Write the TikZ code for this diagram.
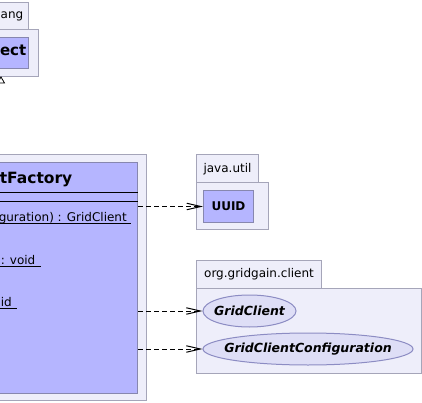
\documentclass[tikz,border=0pt]{standalone}
\usepackage{fontspec}
\setmainfont{DejaVu Sans}
\usetikzlibrary{arrows.meta,shapes.geometric}
\definecolor{pkgfill}{RGB}{238,238,250}
\definecolor{pkgline}{RGB}{165,165,185}
\definecolor{clsfill}{RGB}{181,181,255}
\definecolor{clsline}{RGB}{135,135,175}
\definecolor{elfill}{RGB}{222,222,246}
\definecolor{elline}{RGB}{140,140,195}
\begin{document}
\begin{tikzpicture}[x=1pt,y=-1pt,
  every node/.style={font=\fontsize{12}{14}\selectfont},
  pkgbox/.style={draw=pkgline, fill=pkgfill, line width=1pt, inner sep=0pt, anchor=north west, rectangle},
  clsbox/.style={draw=clsline, fill=clsfill, line width=1pt, inner sep=0pt, anchor=north west, rectangle},
  ifacebox/.style={draw=elline, fill=elfill, line width=1pt, inner sep=0pt, ellipse},
  ifacename/.style={inner sep=0pt, font=\fontsize{12.5}{14}\selectfont\bfseries\itshape},
  frag/.style={inner sep=0pt, anchor=base east},
  dep/.style={draw=black, line width=1pt, dash pattern=on 5pt off 3pt, -{Straight Barb[length=14pt,width=6.5pt,line width=1pt]}}
]
\useasboundingbox (0,0) rectangle (422,403);
\clip (0,0) rectangle (422,403);
\fill[white] (0,0) rectangle (422,403);

% java.lang package (cut off)
\node[pkgbox, minimum width=67.5pt, minimum height=27pt] (langtab) at (-40,2) {};
\node[pkgbox, minimum width=77.5pt, minimum height=47pt] (langbody) at (-40,29) {};
\node[clsbox, minimum width=67.5pt, minimum height=31pt] (object) at (-40,37.5) {};
\node[frag] (langname) at (23.5,18.5) {ang};
\node[frag, font=\fontsize{15}{18}\selectfont\bfseries] (objname) at (26.5,55.5) {ect};
\draw[line width=0.8pt, fill=white] (1,77) -- (4.5,83) -- (-2.5,83) -- cycle;

% GridClientFactory package and class (cut off)
\node[pkgbox, minimum width=185.5pt, minimum height=246pt] (factpkg) at (-40,154) {};
\node[clsbox, minimum width=177pt, minimum height=230.5pt] (factory) at (-40,162) {};
\node[frag, font=\fontsize{15.5}{18}\selectfont\bfseries] (factname) at (72.5,183.3) {tFactory};
\draw[line width=1pt] (factory.west |- {(0,192)}) -- (factory.east |- {(0,192)});
\draw[line width=1pt] (factory.west |- {(0,201)}) -- (factory.east |- {(0,201)});
\node[frag] (m1) at (127,221) {guration) : GridClient};
\draw[line width=1pt] (-40,223.5) -- (131,223.5);
\node[frag] (m2) at (35.5,264) {: void};
\draw[line width=1pt] (-40,266) -- (40.5,266);
\node[frag] (m3) at (12,306.5) {id};
\draw[line width=1pt] (-40,308.5) -- (16.5,308.5);

% java.util package
\node[pkgbox, minimum width=62pt, minimum height=28.5pt] (utiltab) at (196,154) {java.util};
\node[pkgbox, minimum width=72pt, minimum height=46.5pt] (utilbody) at (196,182.5) {};
\node[clsbox, minimum width=50pt, minimum height=32pt, font=\fontsize{12}{14}\selectfont\bfseries] (uuid) at (203,190) {UUID};

% org.gridgain.client package
\node[pkgbox, minimum width=125pt, minimum height=28pt] (clienttab) at (196,260) {org.gridgain.client};
\node[pkgbox, minimum width=225pt, minimum height=84.5pt] (clientbody) at (196,288) {};
\node[ifacebox, minimum width=93pt, minimum height=32pt] (gc) at (249.5,311) {};
\node[ifacename] (gcname) at (gc.center) {GridClient};
\node[ifacebox, minimum width=210pt, minimum height=32pt] (gcc) at (308,349) {};
\node[ifacename] (gccname) at (gcc.center) {GridClientConfiguration};

% dependencies
\draw[dep] (factory.east |- uuid.west) -- (uuid.west);
\draw[dep] (factory.east |- gc.west) -- (gc.west);
\draw[dep] (factory.east |- gcc.west) -- (gcc.west);
\end{tikzpicture}
\end{document}
